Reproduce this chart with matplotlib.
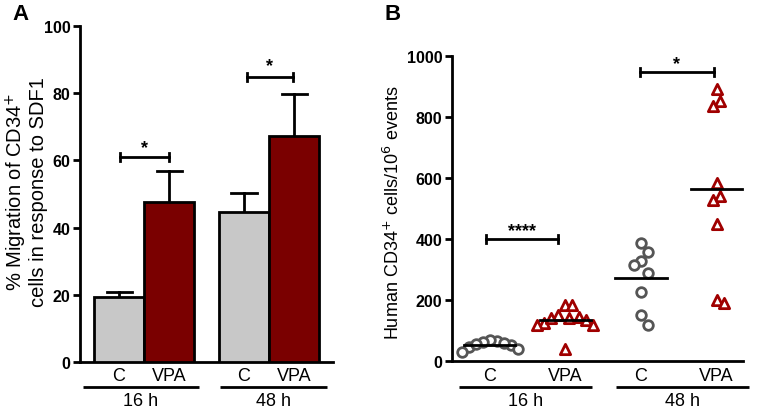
import matplotlib
matplotlib.use("Agg")
import matplotlib.pyplot as plt
import numpy as np

plt.rcParams['font.family'] = ['Liberation Sans', 'DejaVu Sans']

# ---------------- data ----------------
time_groups = ["16 h", "48 h"]
conditions = ["C", "VPA"]
migration_mean = [19.3, 47.7, 44.7, 67.3]      # C16, VPA16, C48, VPA48
migration_err = [1.4, 9.0, 5.7, 12.5]

c16 = [52, 65, 45, 70, 30, 58, 40, 62, 55]
vpa16 = [182, 182, 150, 140, 145, 135, 125, 118, 118, 140, 40]
c48 = [387, 357, 328, 315, 289, 227, 151, 118]
vpa48 = [893, 853, 836, 582, 541, 527, 448, 201, 191]

sig_a = ["*", "*"]
sig_b = ["****", "*"]
yticks_a = [0, 20, 40, 60, 80, 100]
yticks_b = [0, 200, 400, 600, 800, 1000]

# ---------------- style ----------------
GRAY = "#c8c8c8"
RED = "#7a0000"
CIRC = "#555555"
TRI = "#a00000"
LW = 2.0

fig = plt.figure(figsize=(7.63, 4.14), dpi=100)

def style_axes(ax):
    for s in ["top", "right"]:
        ax.spines[s].set_visible(False)
    for s in ["left", "bottom"]:
        ax.spines[s].set_linewidth(LW)
    ax.tick_params(axis="y", width=LW, length=5, labelsize=11.5, pad=2)
    ax.tick_params(axis="x", length=0, labelbottom=False)
    for lab in ax.get_yticklabels():
        lab.set_fontweight("bold")

def group_labels(ax, pos, ranges, yline, ylab1, ylab2):
    for p, c in zip(pos, conditions * 2):
        ax.text(p, ylab1, c, transform=ax.get_xaxis_transform(), ha="center",
                va="center", fontsize=13)
    for (x0, x1), g in zip(ranges, time_groups):
        ax.plot([x0, x1], [yline, yline], transform=ax.get_xaxis_transform(),
                color="black", lw=LW, clip_on=False, solid_capstyle="butt")
        ax.text((x0 + x1) / 2, ylab2, g, transform=ax.get_xaxis_transform(),
                ha="center", va="center", fontsize=13)

def bracket(ax, x0, x1, y, h, label, ty):
    ax.plot([x0, x1], [y, y], color="black", lw=LW, clip_on=False)
    ax.plot([x0, x0], [y - h, y + h], color="black", lw=LW, clip_on=False)
    ax.plot([x1, x1], [y - h, y + h], color="black", lw=LW, clip_on=False)
    ax.text((x0 + x1) / 2, ty, label, ha="center", va="center", fontsize=13,
            fontweight="bold")

# ---------------- panel A ----------------
axA = fig.add_axes([80 / 763, 1 - 363 / 414, 253 / 763, 336 / 414])
posA = [0.78, 1.78, 3.28, 4.28]
colorsA = [GRAY, RED, GRAY, RED]
axA.bar(posA, migration_mean, width=1.0, color=colorsA, edgecolor="black",
        linewidth=LW, zorder=3)
for p, m, e in zip(posA, migration_mean, migration_err):
    axA.plot([p, p], [m, m + e], color="black", lw=LW, zorder=2)
    axA.plot([p - 0.25, p + 0.25], [m + e, m + e], color="black", lw=LW,
             zorder=2)
axA.set_xlim(0, 5.06)
axA.set_ylim(0, 100)
axA.set_yticks(yticks_a)
style_axes(axA)
bracket(axA, 0.8, 1.78, 61, 1.3, sig_a[0], 63.8)
bracket(axA, 3.34, 4.26, 84.8, 1.3, sig_a[1], 88.2)
group_labels(axA, posA, [(0.06, 2.38), (2.8, 4.94)], -0.074, -0.04, -0.115)
fig.text(26 / 763, 1 - 192 / 414,
         "% Migration of CD34$^{+}$\ncells in response to SDF1",
         rotation=90, ha="center", va="center", fontsize=14.5,
         multialignment="center", linespacing=1.0)
fig.text(12 / 763, 1 - 15 / 414, "A", fontsize=16, fontweight="bold",
         ha="left", va="center")

# ---------------- panel B ----------------
axB = fig.add_axes([452 / 763, 1 - 362 / 414, 291 / 763, 305 / 414])
posB = [0.5, 1.5, 2.5, 3.5]
axB.set_xlim(0, 3.85)
axB.set_ylim(0, 1000)
axB.set_yticks(yticks_b)
style_axes(axB)

px_x = 291 / 3.85
px_y = 305 / 1000.0

def swarm(values, dx0=7.0, dy0=14.0, step=3.5):
    ys = np.asarray(values, float) * px_y
    offs = np.zeros(len(ys))
    placed = []
    order = np.argsort(-ys)
    for i in order:
        cands = [0.0]
        for k in range(1, 30):
            cands += [k * step, -k * step]
        for c in cands:
            ok = all(((c - offs[j]) / dx0) ** 2 + ((ys[i] - ys[j]) / dy0) ** 2
                     >= 1.0 for j in placed)
            if ok:
                offs[i] = c
                break
        placed.append(i)
    return offs / px_x

series = [c16, vpa16, c48, vpa48]
markers = ["o", "^", "o", "^"]
mcolors = [CIRC, TRI, CIRC, TRI]
for p, vals, mk, mc in zip(posB, series, markers, mcolors):
    offs = swarm(vals)
    axB.scatter(p + offs, vals, marker=mk, s=48 if mk == "o" else 55,
                facecolor="white", edgecolor=mc, linewidth=2.0, zorder=3,
                clip_on=False)
    m = np.mean(vals)
    axB.plot([p - 0.34, p + 0.34], [m, m], color="black", lw=LW, zorder=4,
             clip_on=False)

bracket(axB, 0.45, 1.40, 400, 12, sig_b[0], 428)
bracket(axB, 2.49, 3.46, 948, 12, sig_b[1], 975)
group_labels(axB, posB, [(0.09, 1.85), (2.17, 3.93)], -0.085, -0.049,
             -0.131)
fig.text(393 / 763, 1 - 213 / 414, "Human CD34$^{+}$ cells/10$^{6}$ events",
         rotation=90, ha="center", va="center", fontsize=13)
fig.text(385 / 763, 1 - 15 / 414, "B", fontsize=16, fontweight="bold",
         ha="left", va="center")

fig.savefig("out.png", dpi=100)
